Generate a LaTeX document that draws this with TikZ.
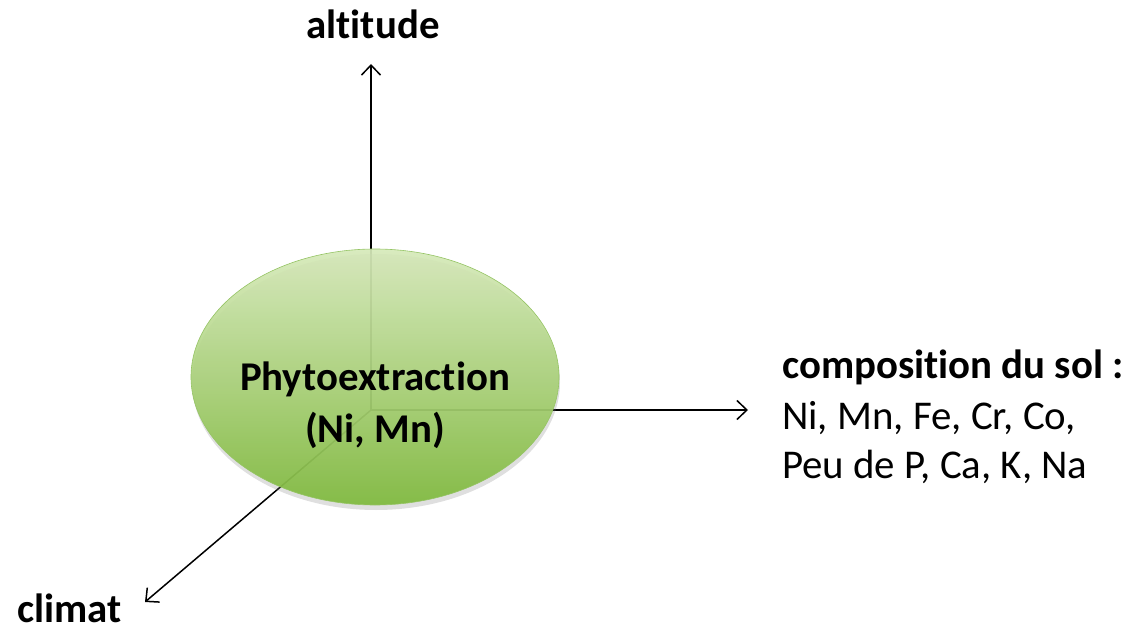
\documentclass[tikz,border=0pt]{standalone}
\usepackage{fontspec}
\setmainfont[Ligatures={NoCommon}]{Carlito}
\usetikzlibrary{arrows.meta,shadows,shapes.geometric}
\definecolor{elltop}{HTML}{D6E9BA}
\definecolor{ellbot}{HTML}{80BA3D}
\definecolor{elledge}{HTML}{95C464}
\tikzset{
  axis/.style={line width=1.5bp, -{Straight Barb[length=10bp,width=19bp,line width=1.5bp]}},
  bub/.style={ellipse, minimum width=368bp, minimum height=256bp, inner sep=0pt,
    top color=elltop, bottom color=ellbot, draw=elledge, line width=0.6bp, fill opacity=0.93,
    drop shadow={shadow xshift=1bp, shadow yshift=-5bp, opacity=0.25, fill=black!50}},
  lab/.style={font=\fontsize{41}{50}\selectfont\bfseries, inner sep=0pt},
  lst/.style={font=\fontsize{41}{50}\selectfont, inner sep=0pt, align=left}
}
\begin{document}
\begin{tikzpicture}[x=1bp,y=-1bp]
\useasboundingbox (0,0) rectangle (1142,631);
\coordinate (O) at (371,410);
\coordinate (up) at (371,64);
\coordinate (rt) at (748,410);
\coordinate (dl) at (145,602);
\draw[axis] (O) -- (up);
\draw[axis] (O) -- (rt);
\draw[axis] (O) -- (dl);
\node[bub] (E) at (375,377) {};
\node[lab, anchor=base] (P) at (375,390) {Phytoextraction};
\node[lab, anchor=base] (PN) at (375,442) {(Ni, Mn)};
\node[lab, anchor=base] (alt) at (373,39) {altitude};
\node[lab, anchor=base west] (cl) at (17,622) {climat};
\node[lab, anchor=base west] (comp) at (782,378) {composition du sol :};
\node[lst, anchor=base west] (l1) at (782,429) {Ni, Mn, Fe, Cr, Co,};
\node[lst, anchor=base west] (l2) at (782,478) {Peu de P, Ca, K, Na};
\end{tikzpicture}
\end{document}
